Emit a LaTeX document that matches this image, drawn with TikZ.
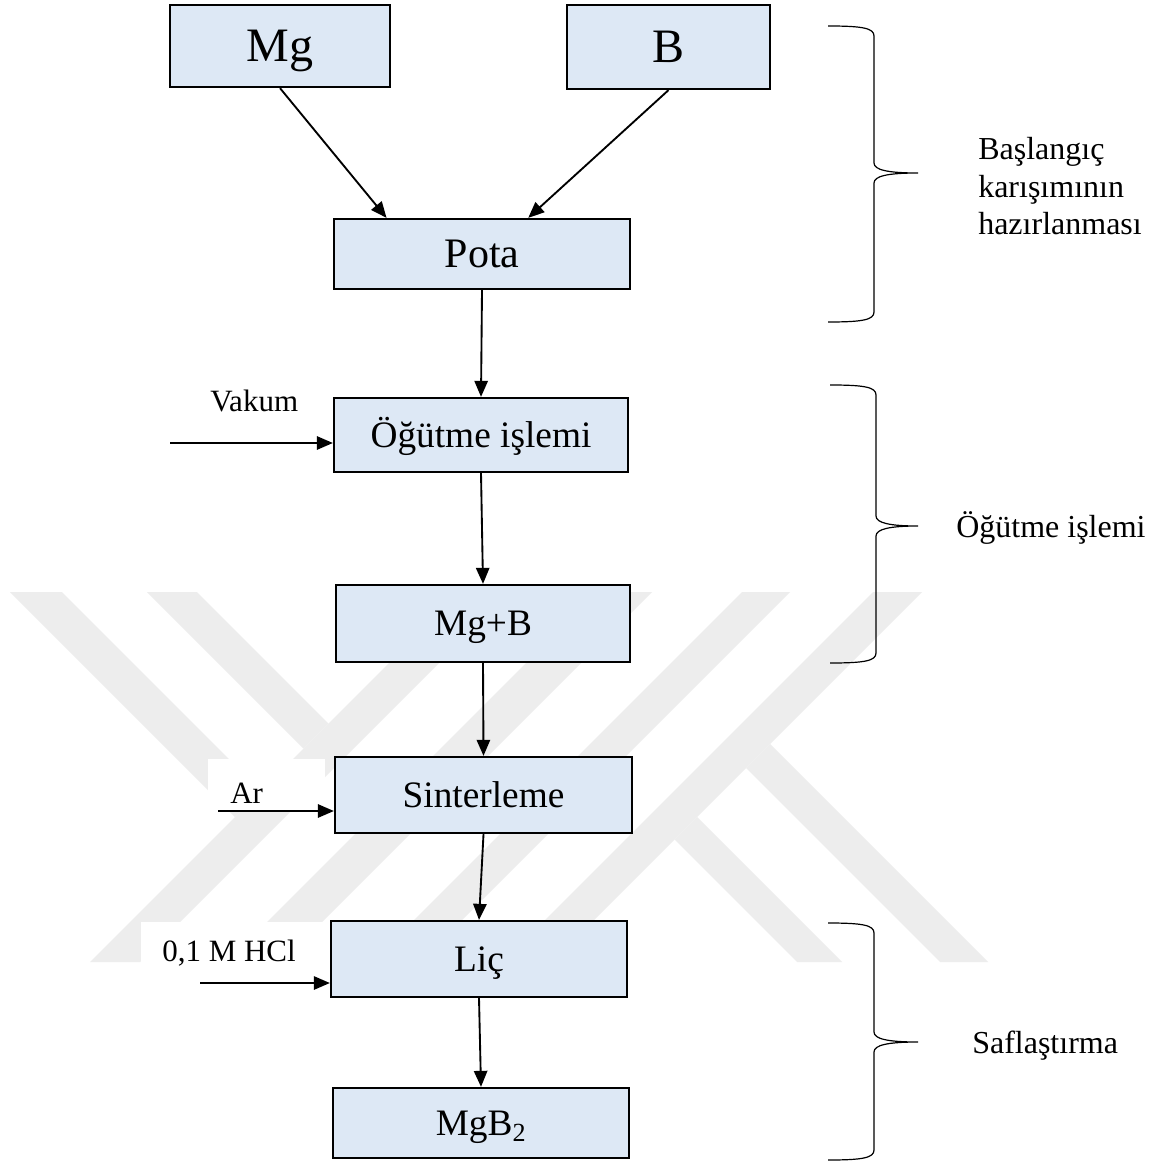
\documentclass[tikz,border=0pt]{standalone}
\usepackage{fontspec}
\setmainfont{Liberation Serif}
\usetikzlibrary{arrows.meta,calc}
\definecolor{boxfill}{RGB}{221,232,245}
\definecolor{wm}{RGB}{237,237,237}
\begin{document}
\begin{tikzpicture}[x=0.75pt,y=-0.75pt,
  proc/.style={draw=black,line width=1.7pt,fill=boxfill,inner sep=0pt,text height=18.5pt,text depth=0pt,font=\fontsize{28}{32}\selectfont},
  big/.style={font=\fontsize{36}{40}\selectfont,text height=23.8pt},
  mid/.style={font=\fontsize{31.5}{36}\selectfont,text height=20.9pt},
  flow/.style={line width=1.4pt,-{Triangle[length=12pt,width=10pt]}},
  lbl/.style={inner sep=0pt,anchor=base west,font=\fontsize{23.25}{27}\selectfont},
  side/.style={inner sep=0pt,anchor=base west,font=\fontsize{24}{28}\selectfont},
  brace/.style={line width=0.9pt},
  wmark/.style={fill=wm,draw=none}]
\useasboundingbox (0,0) rectangle (1158,1162);
\fill[white] (0,0) rectangle (1158,1162);

% watermark
\fill[wmark] (10,592) -- (62,592) -- (261,791) -- (235,817) -- cycle;
\fill[wmark] (147,592) -- (197,592) -- (328.5,723.5) -- (303.5,748.5) -- cycle;
\fill[wmark] (90,962) -- (140,962) -- (510,592) -- (460,592) -- cycle;
\fill[wmark] (227,962) -- (282,962) -- (652,592) -- (597,592) -- cycle;
\fill[wmark] (372,962) -- (420,962) -- (790,592) -- (742,592) -- cycle;
\fill[wmark] (503,962) -- (552,962) -- (922,592) -- (873,592) -- cycle;
\fill[wmark] (674.5,839.5) -- (697,817) -- (842,962) -- (797,962) -- cycle;
\fill[wmark] (746,768) -- (770,744) -- (988,962) -- (940,962) -- cycle;

% white label backgrounds
\fill[white] (208,759) rectangle (325,810);
\fill[white] (141,922) rectangle (330,975);

% boxes
\node[proc,big,minimum width=165pt,minimum height=61.5pt] (mg) at (280,46) {Mg};
\node[proc,big,minimum width=152.25pt,minimum height=63pt] (b) at (668.5,47) {B};
\node[proc,mid,minimum width=222pt,minimum height=52.5pt] (pota) at (482,254) {Pota};
\node[proc,minimum width=220.5pt,minimum height=55.5pt] (ogut) at (481,435) {Öğütme işlemi};
\node[proc,minimum width=220.5pt,minimum height=57.75pt] (mgb) at (483,623.5) {Mg+B};
\node[proc,minimum width=222.75pt,minimum height=57pt] (sint) at (483.5,795) {Sinterleme};
\node[proc,minimum width=222pt,minimum height=57pt] (lic) at (479,959) {Liç};
\node[proc,minimum width=222pt,minimum height=52.5pt] (mgbb) at (481,1123) {MgB\textsubscript{2}};

% main flow
\draw[flow] (mg.south) -- ($(pota.north west)!0.18!(pota.north east)$);
\draw[flow] (b.south) -- ($(pota.north west)!0.655!(pota.north east)$);
\draw[flow] (pota.south) -- (ogut.north);
\draw[flow] (ogut.south) -- (mgb.north);
\draw[flow] (mgb.south) -- (sint.north);
\draw[flow] (sint.south) -- (lic.north);
\draw[flow] (lic.south) -- (mgbb.north);

% side inputs
\coordinate (vin) at (170,443);
\coordinate (ain) at (218,811);
\coordinate (hin) at (200,983);
\draw[flow] (vin) -- (vin -| ogut.west);
\draw[flow] (ain) -- (ain -| sint.west);
\draw[flow] (hin) -- (hin -| lic.west);
\node[lbl] (vak) at (210,411.7) {Vakum};
\node[lbl] (ar) at (230,803) {Ar};
\node[lbl] (hcl) at (162,961) {0,1 M HCl};

% braces
\draw[brace] (828,26) .. controls (862,26) and (874,28) .. (874,36) -- (874,163)
  .. controls (874,170) and (888,173) .. (918,173)
  .. controls (888,173) and (874,176) .. (874,183) -- (874,312)
  .. controls (874,320) and (862,322) .. (828,322);
\draw[brace] (830,385) .. controls (864,385) and (876,387) .. (876,395) -- (876,516)
  .. controls (876,523) and (890,526) .. (918,526)
  .. controls (890,526) and (876,529) .. (876,536) -- (876,653)
  .. controls (876,661) and (864,663) .. (830,663);
\draw[brace] (828,923) .. controls (862,923) and (874,925) .. (874,933) -- (874,1032)
  .. controls (874,1039) and (888,1042) .. (918,1042)
  .. controls (888,1042) and (874,1045) .. (874,1052) -- (874,1150)
  .. controls (874,1158) and (862,1160) .. (828,1160);

% side labels
\node[side] (s1a) at (978,160) {Başlangıç};
\node[side] (s1b) at (978,198) {karışımının};
\node[side] (s1c) at (978,235) {hazırlanması};
\node[side] (s2) at (956,537) {Öğütme işlemi};
\node[side] (s3) at (972,1053) {Saflaştırma};
\end{tikzpicture}
\end{document}
